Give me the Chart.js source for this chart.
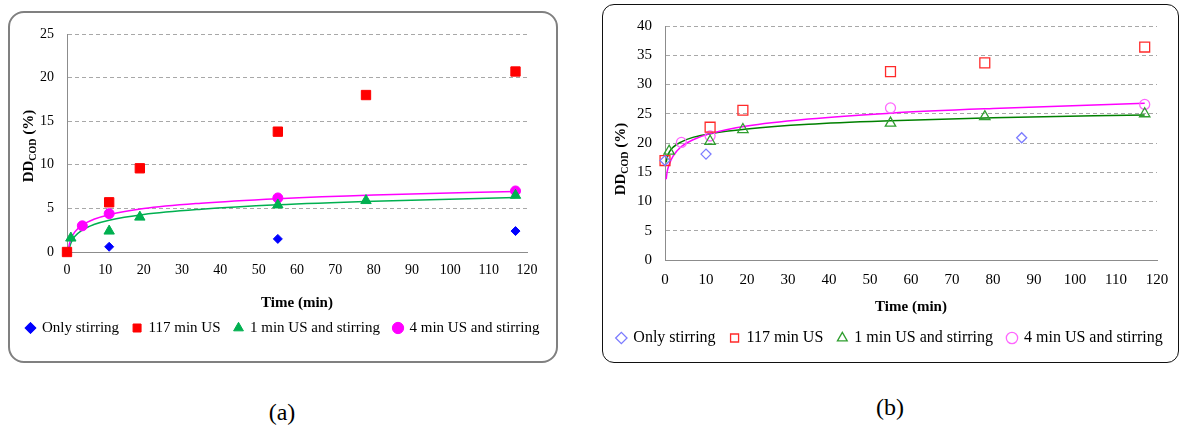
<!DOCTYPE html>
<html>
<head>
<meta charset="utf-8">
<script src="https://cdn.jsdelivr.net/npm/chart.js@4.4.1/dist/chart.umd.min.js"></script>
<style>
  body { margin: 0; width: 1180px; height: 427px; background: #fff; overflow: hidden; position: relative;
         font-family: "Liberation Serif", "Times New Roman", serif; }
  .frame { position: absolute; box-sizing: border-box; }
  #frameA { left: 8px; top: 11px; width: 550px; height: 352px; border: 2px solid #808080; border-radius: 16px; }
  #frameB { left: 602px; top: 4px; width: 577px; height: 359px; border: 1.5px solid #111; border-radius: 12px; }
  .plot { position: absolute; }
  #plotA { left: -2px; top: 11px; width: 570px; height: 352px; }
  #plotB { left: 598px; top: 4px; width: 584px; height: 359px; }
  .cap { position: absolute; font-size: 24px; transform: translate(-50%, -50%); }
</style>
</head>
<body>
<div class="frame" id="frameA"></div>
<div class="frame" id="frameB"></div>
<div class="plot" id="plotA"><canvas id="chartA"></canvas></div>
<div class="plot" id="plotB"><canvas id="chartB"></canvas></div>
<div class="cap" style="left:282px; top:412px;">(a)</div>
<div class="cap" style="left:890px; top:407px;">(b)</div>

<script>
// names and tick labels
const seriesNames = ["Only stirring", "117 min US", "1 min US and stirring", "4 min US and stirring"];
const xTitle = "Time (min)";
const yTitleParts = ["DD", "COD", " (%)"];
const xTicks = [0, 10, 20, 30, 40, 50, 60, 70, 80, 90, 100, 110, 120];
const yTicksA = [0, 5, 10, 15, 20, 25];
const yTicksB = [0, 5, 10, 15, 20, 25, 30, 35, 40];

// panel (a) measurements
const stirTimeA = [11, 55, 117];
const stirValA = [0.6, 1.5, 2.4];
const us117TimeA = [0, 11, 19, 55, 78, 117];
const us117ValA = [0, 5.7, 9.6, 13.8, 18.0, 20.7];
const us1TimeA = [1, 11, 19, 55, 78, 117];
const us1ValA = [1.6, 2.4, 4.0, 5.4, 5.9, 6.5];
const us4TimeA = [4, 11, 55, 117];
const us4ValA = [3.0, 4.4, 6.2, 7.0];
// panel (a) trend curves
const trend1TimeA = [0.45, 1, 2, 4, 7, 11, 20, 35, 55, 80, 117];
const trend1ValA = [0.1, 1.0, 1.77, 2.53, 3.15, 3.65, 4.3, 4.9, 5.42, 5.83, 6.25];
const trend4TimeA = [0.3, 0.5, 1, 2, 4, 7, 11, 20, 35, 55, 80, 117];
const trend4ValA = [0.05, 0.65, 1.46, 2.28, 3.09, 3.75, 4.28, 4.98, 5.6, 6.12, 6.55, 6.95];

// panel (b) measurements
const stirTimeB = [0, 10, 87];
const stirValB = [17.0, 18.1, 20.9];
const us117TimeB = [0, 11, 19, 55, 78, 117];
const us117ValB = [17.0, 22.7, 25.6, 32.2, 33.7, 36.4];
const us1TimeB = [1, 11, 19, 55, 78, 117];
const us1ValB = [18.6, 20.3, 22.3, 23.4, 24.5, 25.0];
const us4TimeB = [4, 11, 55, 117];
const us4ValB = [20.1, 21.2, 26.0, 26.6];
// panel (b) trend curves
const trendTimeB = [0.3, 0.5, 1, 2, 4, 7, 11, 20, 35, 55, 80, 117];
const trend1ValB = [16.7, 17.4, 18.4, 19.3, 20.2, 21.0, 21.6, 22.4, 23.2, 23.8, 24.3, 24.8];
const trend4ValB = [13.8, 15.0, 16.3, 17.8, 19.4, 20.6, 21.6, 22.9, 24.1, 25.1, 25.9, 26.8];

Chart.defaults.font.family = '"Liberation Serif", "Times New Roman", serif';
Chart.defaults.color = "#000";

function toPoints(xs, ys) {
  return xs.map((x, i) => ({ x: x, y: ys[i] }));
}

function markerSet(label, xs, ys, st) {
  return {
    label: label,
    data: toPoints(xs, ys),
    showLine: false,
    clip: false,
    pointStyle: st.shape,
    pointRadius: st.r,
    pointHoverRadius: st.r,
    pointBackgroundColor: st.fill,
    pointBorderColor: st.stroke,
    pointBorderWidth: st.bw,
    backgroundColor: st.fill,
    borderColor: st.stroke
  };
}

function trendSet(xs, ys, color) {
  return {
    label: "trend",
    data: toPoints(xs, ys),
    showLine: true,
    pointRadius: 0,
    borderColor: color,
    borderWidth: 1.5,
    cubicInterpolationMode: "monotone",
    fill: false
  };
}

// axis titles (the y one has a subscript)
const axisTitles = {
  id: "axisTitles",
  afterDraw(chart, args, o) {
    const ctx = chart.ctx;
    const area = chart.chartArea;
    const big = "bold " + o.size + 'px "Liberation Serif"';
    const small = "bold " + Math.round(o.size * 0.68) + 'px "Liberation Serif"';
    ctx.save();
    ctx.fillStyle = "#000";
    ctx.font = big;
    ctx.textAlign = "center";
    ctx.textBaseline = "middle";
    ctx.fillText(xTitle, (area.left + area.right) / 2, area.bottom + o.xGap);

    ctx.textAlign = "left";
    ctx.textBaseline = "alphabetic";
    ctx.translate(o.yX, o.yY);
    ctx.rotate(-Math.PI / 2);
    const w1 = ctx.measureText(yTitleParts[0]).width;
    const w3 = ctx.measureText(yTitleParts[2]).width;
    ctx.font = small;
    const w2 = ctx.measureText(yTitleParts[1]).width;
    let x = -(w1 + w2 + w3) / 2;
    const base = o.size * 0.35;
    ctx.font = big;
    ctx.fillText(yTitleParts[0], x, base);
    x += w1;
    ctx.font = small;
    ctx.fillText(yTitleParts[1], x, base + o.size * 0.15);
    x += w2;
    ctx.font = big;
    ctx.fillText(yTitleParts[2], x, base);
    ctx.restore();
  }
};

function makeChart(id, p) {
  return new Chart(document.getElementById(id), {
    type: "scatter",
    data: { datasets: p.datasets },
    options: {
      responsive: true,
      maintainAspectRatio: false,
      animation: false,
      layout: { padding: { left: 0, right: 0, top: p.padTop, bottom: p.padBottom } },
      scales: {
        y: {
          position: "left",
          min: p.yTicks[0],
          max: p.yTicks[p.yTicks.length - 1],
          ticks: { stepSize: p.yTicks[1] - p.yTicks[0], padding: 13, font: { size: p.tickSize } },
          grid: { color: "#a8a8a8", lineWidth: 1, drawTicks: false },
          border: { display: true, color: "#8c8c8c", width: 1, dash: [4, 3] },
          afterFit: (s) => { s.width = p.yWidth; }
        },
        y2: {
          position: "right",
          display: true,
          grid: { display: false, drawTicks: false },
          border: { display: false },
          ticks: { display: false },
          afterFit: (s) => { s.width = p.rightWidth; }
        },
        x: {
          type: "linear",
          min: xTicks[0],
          max: xTicks[xTicks.length - 1],
          ticks: { stepSize: xTicks[1] - xTicks[0], padding: p.xTickPad, font: { size: p.tickSize } },
          grid: { display: false, drawTicks: false },
          border: { display: true, color: "#8c8c8c", width: 1 },
          afterFit: (s) => { s.height = p.xHeight; }
        }
      },
      plugins: {
        tooltip: { enabled: false },
        legend: {
          position: "bottom",
          labels: {
            usePointStyle: true,
            boxWidth: p.box,
            boxHeight: p.box,
            padding: p.legendPad,
            color: "#000",
            font: { size: p.legendSize },
            filter: (item) => item.datasetIndex < 4
          }
        },
        axisTitles: p.titles
      }
    },
    plugins: [axisTitles]
  });
}

makeChart("chartA", {
  datasets: [
    markerSet(seriesNames[0], stirTimeA, stirValA, { shape: "rectRot", r: 4.5, fill: "#0000ff", stroke: "#0000ff", bw: 1 }),
    markerSet(seriesNames[1], us117TimeA, us117ValA, { shape: "rect", r: 6.6, fill: "#ff0000", stroke: "#ff0000", bw: 1 }),
    markerSet(seriesNames[2], us1TimeA, us1ValA, { shape: "triangle", r: 6, fill: "#00b050", stroke: "#00b050", bw: 1 }),
    markerSet(seriesNames[3], us4TimeA, us4ValA, { shape: "circle", r: 5, fill: "#ff00ff", stroke: "#ff00ff", bw: 1 }),
    trendSet(trend4TimeA, trend4ValA, "#ff00ff"),
    trendSet(trend1TimeA, trend1ValA, "#00b050")
  ],
  yTicks: yTicksA,
  padTop: 23,
  padBottom: 17.5,
  yWidth: 69,
  rightWidth: 41,
  xHeight: 54.5,
  xTickPad: 10,
  tickSize: 14,
  legendSize: 15,
  legendPad: 14,
  box: 8,
  titles: { size: 15, xGap: 51, yX: 30, yY: 135 }
});

makeChart("chartB", {
  datasets: [
    markerSet(seriesNames[0], stirTimeB, stirValB, { shape: "rectRot", r: 5, fill: "rgba(0,0,0,0)", stroke: "#7b7bff", bw: 1.3 }),
    markerSet(seriesNames[1], us117TimeB, us117ValB, { shape: "rect", r: 7, fill: "rgba(0,0,0,0)", stroke: "#ff2a2a", bw: 1.3 }),
    markerSet(seriesNames[2], us1TimeB, us1ValB, { shape: "triangle", r: 6, fill: "rgba(0,0,0,0)", stroke: "#2f9e2f", bw: 1.3 }),
    markerSet(seriesNames[3], us4TimeB, us4ValB, { shape: "circle", r: 5, fill: "rgba(0,0,0,0)", stroke: "#ff66ff", bw: 1.3 }),
    trendSet(trendTimeB, trend4ValB, "#ff00ff"),
    trendSet(trendTimeB, trend1ValB, "#008000")
  ],
  yTicks: yTicksB,
  padTop: 20,
  padBottom: 7,
  yWidth: 67,
  rightWidth: 25,
  xHeight: 55,
  xTickPad: 11,
  tickSize: 15,
  legendSize: 16,
  legendPad: 15,
  box: 8,
  titles: { size: 15, xGap: 47, yX: 22, yY: 155 }
});
</script>
</body>
</html>
